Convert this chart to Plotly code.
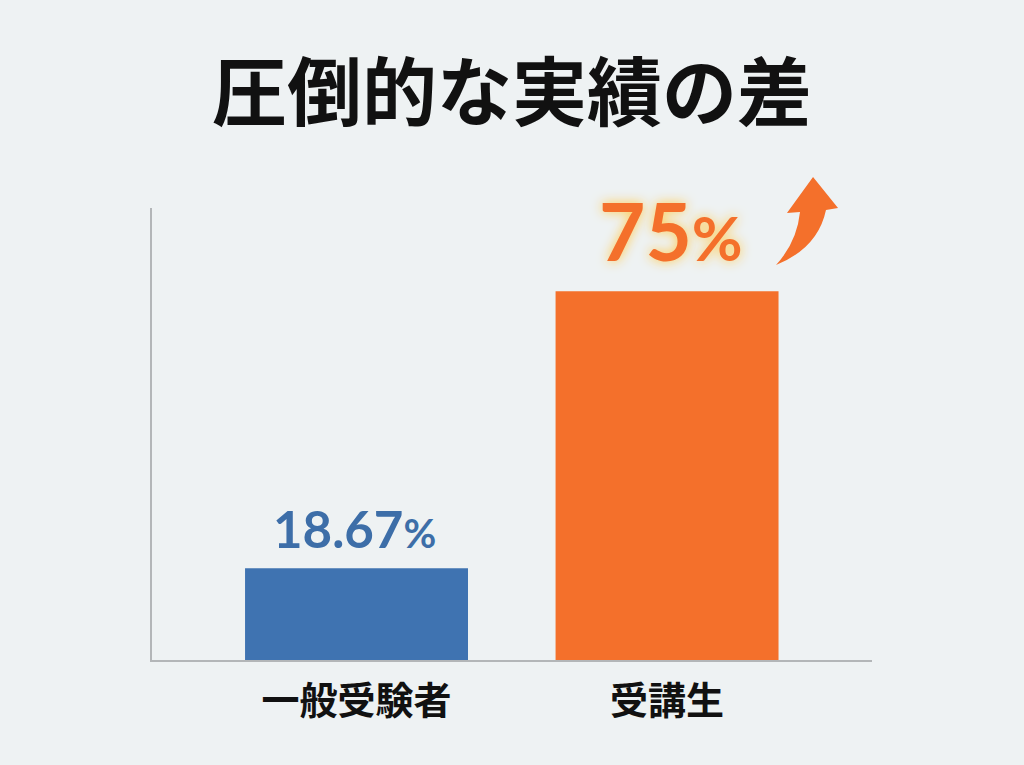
import plotly.graph_objects as go

categories = ["一般受験者", "受講生"]
values = [18.67, 75]
value_labels = ["18.67", "75"]
bar_colors = ["#3f73b1", "#f4702b"]
label_colors = ["#3d6ea8", "#f4702b"]
title_text = "圧倒的な実績の差"

BG = "#eef2f3"
W, H = 1024, 765
L, R, T, B = 152, 152, 208, 105

fig = go.Figure()
fig.add_trace(go.Bar(
    x=[0, 1], y=values, marker=dict(color=bar_colors, line=dict(width=0)),
    width=0.718, hoverinfo="skip",
))

# value labels
fig.add_annotation(x=0, y=values[0], xref="x", yref="y", yshift=40, xshift=-2, showarrow=False,
                   text=f"{value_labels[0]}<span style='font-size:40px'>%</span>",
                   font=dict(family="Lato", size=51, color=label_colors[0], weight="bold"))
fig.add_annotation(x=1, y=values[1], xref="x", yref="y", yshift=61, xshift=4, showarrow=False,
                   text=f"{value_labels[1]}<span style='font-size:62px'>%</span>",
                   font=dict(family="Lato", size=80, color=label_colors[1], weight="bold",
                             shadow="0px 0px 12px rgba(255,200,70,0.95)"))

# curved decorative arrow (paper coords from pixel helper)
def px(x, y):
    return (x - L) / (W - L - R), (H - B - y) / (H - T - B)

def pt(x, y):
    a, b = px(x, y)
    return f"{a:.4f},{b:.4f}"

path = ("M " + pt(776, 265) + " Q " + pt(797, 242) + " " + pt(800, 212) +
        " L " + pt(787, 213) + " L " + pt(813, 177) + " L " + pt(838, 208) +
        " L " + pt(826, 210) + " Q " + pt(818, 248) + " " + pt(776, 265) + " Z")
fig.add_shape(type="path", path=path, xref="paper", yref="paper",
              fillcolor="#f4702b", line=dict(width=0), layer="above")

fig.update_layout(
    width=W, height=H,
    margin=dict(l=L, r=R, t=T, b=B),
    paper_bgcolor=BG, plot_bgcolor=BG,
    showlegend=False,
    title=dict(text=title_text, x=0.5, xanchor="center", y=1 - 94 / H, yanchor="middle",
               font=dict(family="Noto Sans CJK JP", size=75, color="#111111", weight="bold")),
    xaxis=dict(range=[-0.6586, 1.66], tickvals=[0, 1], ticktext=categories,
               showgrid=False, zeroline=False, showline=True, linecolor="#b3b6b8", linewidth=2,
               ticks="", ticklabelstandoff=6,
               tickfont=dict(family="Noto Sans CJK JP", size=38, color="#111111", weight="bold")),
    yaxis=dict(range=[0, 91.96], showgrid=False, zeroline=False, showticklabels=False,
               showline=True, linecolor="#b3b6b8", linewidth=2, ticks=""),
)

fig.write_html("out.html", config={"displayModeBar": False},
               post_script="document.body.style.margin='0';document.body.style.background='%s';document.body.style.overflow='hidden';" % BG)
